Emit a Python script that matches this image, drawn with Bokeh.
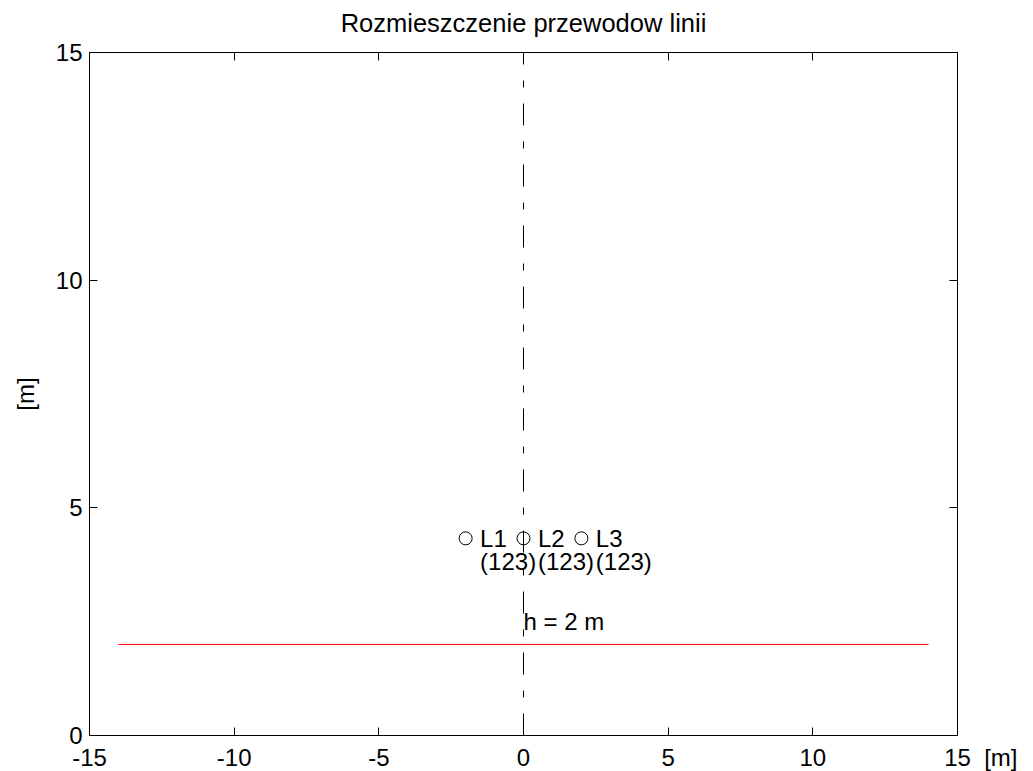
from bokeh.plotting import figure
from bokeh.models import LinearAxis, FixedTicker, Range1d, PrintfTickFormatter
from bokeh.core.properties import value
from bokeh.embed import file_html
from bokeh.resources import INLINE

# ---- data ----
title_text = "Rozmieszczenie przewodow linii"
phase_names = ["L1", "L2", "L3"]
phase_codes = ["(123)", "(123)", "(123)"]
cond_x = [-2.0, 0.0, 2.0]
cond_y = [4.33, 4.33, 4.33]
code_row_y = [3.82, 3.82, 3.82]
ground_x = [-14.0, 14.0]
h_value = 2.0
h_label = "h = 2 m"
h_label_y = 2.5
axis_x = [0.0, 0.0]
axis_y = [0.0, 15.0]
x_ticks = [-15, -10, -5, 0, 5, 10, 15]
y_ticks = [0, 5, 10, 15]
x_range = (-15, 15)
y_range = (0, 15)
unit = "[m]"

FONT = "Liberation Sans"
NB = "\u00a0"

p = figure(
    output_backend="svg", toolbar_location=None,
    frame_width=868, frame_height=683,
    min_border_left=89, min_border_right=76, min_border_top=52, min_border_bottom=36,
    x_range=Range1d(*x_range), y_range=Range1d(*y_range),
    title=title_text, x_axis_location="below", y_axis_location="left",
)
p.background_fill_color = "white"
p.border_fill_color = "white"
p.outline_line_color = "black"
p.grid.visible = False

p.title.align = "center"
p.title.text_font = FONT
p.title.text_font_size = "25.5px"
p.title.text_font_style = "normal"
p.title.text_color = "black"
p.title.standoff = 11

xa = p.xaxis[0]
ya = p.yaxis[0]
xa.ticker = FixedTicker(ticks=x_ticks)
ya.ticker = FixedTicker(ticks=y_ticks)
for ax in (xa, ya):
    ax.formatter = PrintfTickFormatter(format="%d")
    ax.axis_line_color = "black"
    ax.major_tick_in = 8
    ax.major_tick_out = 0
    ax.minor_tick_line_color = None
    ax.major_label_text_font = FONT
    ax.major_label_text_font_size = "24px"
    ax.major_label_text_color = "black"
xa.major_label_standoff = 8
ya.major_label_standoff = 7
# unit of the x axis written after the last tick label (as in the reference)
last = x_ticks[-1]
xa.major_label_overrides = {last: NB * 7 + str(last) + NB * 2 + unit}
ya.axis_label = unit
ya.axis_label_text_font = FONT
ya.axis_label_text_font_size = "24px"
ya.axis_label_text_font_style = "normal"
ya.axis_label_text_color = "black"
ya.axis_label_standoff = 14

# mirrored axes on top and right: ticks only (box like the reference)
top_ax = LinearAxis(ticker=FixedTicker(ticks=x_ticks),
                    major_label_overrides={t: NB for t in x_ticks})
right_ax = LinearAxis(ticker=FixedTicker(ticks=y_ticks),
                      major_label_overrides={t: "" for t in y_ticks})
for ax in (top_ax, right_ax):
    ax.axis_line_color = "black"
    ax.major_tick_in = 8
    ax.major_tick_out = 0
    ax.minor_tick_line_color = None
    ax.major_label_text_font_size = "1px"
    ax.major_label_standoff = 0
top_ax.major_label_standoff = 6
p.add_layout(top_ax, "above")
p.add_layout(right_ax, "right")

# dash-dot symmetry axis
p.line(axis_x, axis_y, line_color="black", line_width=1, line_dash="22 16 7 16")

# height line
p.line(ground_x, [h_value, h_value], line_color="red", line_width=1)

# conductors
p.scatter(cond_x, cond_y, marker="circle", size=13, fill_color=None,
          line_color="black", line_width=1)

lbl_x = [x + 0.5 for x in cond_x]
p.text(lbl_x, cond_y, text=phase_names, text_font=value(FONT), text_font_size="24px",
       text_align="left", text_baseline="middle", text_color="black")
p.text(lbl_x, code_row_y, text=phase_codes, text_font=value(FONT), text_font_size="24px",
       text_align="left", text_baseline="middle", text_color="black")
p.text([0.0], [h_label_y], text=[h_label], text_font=value(FONT), text_font_size="24px",
       text_align="left", text_baseline="middle", text_color="black")

open("out.html", "w").write(file_html(p, INLINE))
